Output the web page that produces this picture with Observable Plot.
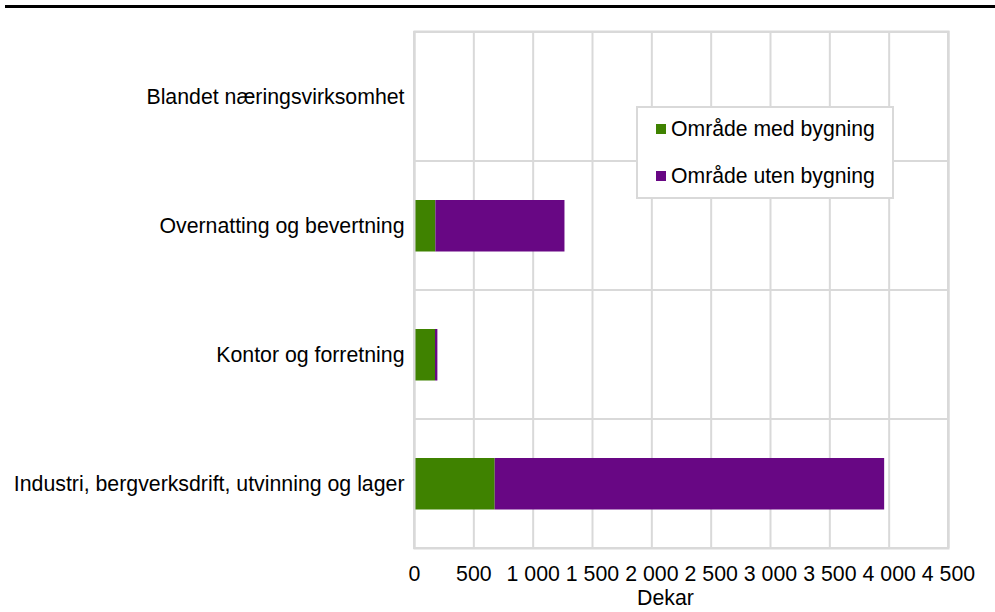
<!DOCTYPE html>
<html>
<head>
<meta charset="utf-8">
<script src="https://cdn.jsdelivr.net/npm/d3@7"></script>
<script src="https://cdn.jsdelivr.net/npm/@observablehq/plot@0.6"></script>
<style>
  html, body { margin: 0; padding: 0; background: #fff; }
  #wrap { position: relative; width: 995px; height: 612px; font-family: "Liberation Sans", Arial, sans-serif; }
  #topline { position: absolute; left: 5px; top: 5px; width: 990px; height: 2.5px; background: #000; }
  #legend { position: absolute; left: 636px; top: 106px; width: 258px; height: 93px; box-sizing: border-box;
            border: 2px solid #d9d9d9; background: #fff; font-size: 21.2px; color: #000; }
  .item { position: absolute; left: 18px; height: 24px; line-height: 24px; display: flex; align-items: center; white-space: nowrap; }
  .sw { width: 10px; height: 10px; margin-right: 5px; }
</style>
</head>
<body>
<div id="wrap">
  <div id="chart"></div>
  <div id="topline"></div>
  <div id="legend"></div>
</div>
<script>
const categories = [
  "Blandet næringsvirksomhet",
  "Overnatting og bevertning",
  "Kontor og forretning",
  "Industri, bergverksdrift, utvinning og lager"
];
const seriesNames = ["Område med bygning", "Område uten bygning"];
const seriesColors = ["#3f8200", "#680784"];
const medBygning = [0, 180, 177, 680];
const utenBygning = [0, 1088, 20, 3282];
const xTicks = [0, 500, 1000, 1500, 2000, 2500, 3000, 3500, 4000, 4500];
const xTickLabels = ["0", "500", "1 000", "1 500", "2 000", "2 500", "3 000", "3 500", "4 000", "4 500"];
const xLabel = "Dekar";

const rows = [];
categories.forEach((c, i) => {
  rows.push({category: c, series: seriesNames[0], value: medBygning[i]});
  rows.push({category: c, series: seriesNames[1], value: utenBygning[i]});
});

const grid = "#d9d9d9";
const chart = Plot.plot({
  width: 995,
  height: 612,
  marginLeft: 414,
  marginRight: 47,
  marginTop: 31,
  marginBottom: 64,
  style: {fontFamily: "'Liberation Sans', Arial, sans-serif", fontSize: "21.3px", color: "#000", background: "#fff"},
  x: {domain: [xTicks[0], xTicks[xTicks.length - 1]]},
  y: {domain: categories, padding: 0},
  color: {domain: seriesNames, range: seriesColors},
  marks: [
    Plot.gridX({ticks: xTicks, stroke: grid, strokeOpacity: 1, strokeWidth: 2}),
    Plot.barX(categories, {x1: xTicks[0], x2: xTicks[xTicks.length - 1], y: d => d, fill: "none", stroke: grid, strokeWidth: 2}),
    Plot.barX(rows, {x: "value", y: "category", fill: "series", order: seriesNames, insetTop: 39, insetBottom: 38.5, insetLeft: 0, insetRight: 0}),
    Plot.frame({stroke: grid, strokeWidth: 2}),
    Plot.axisX({ticks: xTicks, tickFormat: d => xTickLabels[xTicks.indexOf(d)], tickSize: 0, tickPadding: 17, label: null}),
    Plot.axisY({tickSize: 0, tickPadding: 10, label: null}),
    Plot.text([xLabel], {text: d => d, frameAnchor: "bottom", dy: 56, dx: -16, fontSize: 21.3})
  ]
});
document.getElementById("chart").appendChild(chart);

const legend = document.getElementById("legend");
seriesNames.forEach((name, i) => {
  const item = document.createElement("div");
  item.className = "item";
  item.style.top = (9 + 47 * i) + "px";
  const sw = document.createElement("span");
  sw.className = "sw";
  sw.style.background = seriesColors[i];
  const tx = document.createElement("span");
  tx.textContent = name;
  item.appendChild(sw);
  item.appendChild(tx);
  legend.appendChild(item);
});
</script>
</body>
</html>
